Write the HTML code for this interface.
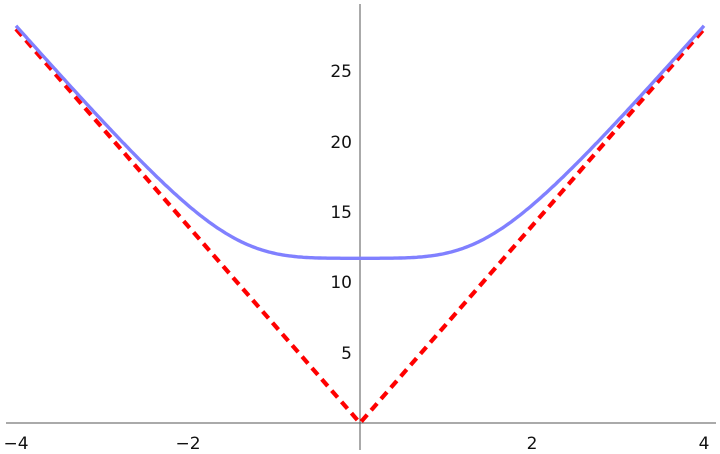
<!DOCTYPE html>
<html><head><style>html,body{margin:0;padding:0;background:#fff;}svg{display:block;}</style></head>
<body>
<svg id="s" width="720" height="454" xmlns="http://www.w3.org/2000/svg" font-family="DejaVu Sans, Liberation Sans, sans-serif" font-size="17">
<g stroke="#555" stroke-width="1">
<line x1="6" y1="423" x2="716" y2="423"/>
<line x1="360" y1="4" x2="360" y2="450"/>
</g>
<g id="ticks" stroke="#555" stroke-width="1"></g>
<g fill="#111">
<text x="16" y="449" text-anchor="middle">−4</text>
<text x="188" y="449" text-anchor="middle">−2</text>
<text x="532" y="449" text-anchor="middle">2</text>
<text x="704" y="449" text-anchor="middle">4</text>
<text x="352" y="359" text-anchor="end">5</text>
<text x="352" y="288" text-anchor="end">10</text>
<text x="352" y="218" text-anchor="end">15</text>
<text x="352" y="148" text-anchor="end">20</text>
<text x="352" y="77" text-anchor="end">25</text>
</g>
<path id="red" fill="none" stroke="#ff0000" stroke-width="4.2" stroke-dasharray="9,6" d="M16 29 L360 423 L704 29"/>
<path id="blue" fill="none" stroke="#8080ff" stroke-width="3.4"/>
<script>
var X=function(x){return 360+86*x},Y=function(y){return 423-14.08*y};
var d="";for(var i=0;i<=400;i++){var x=-4+i*0.02;var y=Math.pow(Math.pow(7*x,4)+Math.pow(11.7,4),0.25);d+=(i?"L":"M")+X(x).toFixed(1)+" "+Y(y).toFixed(1);}
document.getElementById("blue").setAttribute("d",d);
var t="";for(var k=-8;k<=8;k++){var x=X(k/2);var L=(k%4==0)?6:3;if(k!=0)t+='<line x1="'+x+'" y1="'+(423-L)+'" x2="'+x+'" y2="423"/>';}
for(var k=1;k<=29;k++){var y=Y(k);var L=(k%5==0)?6:3;t+='<line x1="360" y1="'+y+'" x2="'+(360+L)+'" y2="'+y+'"/>';}
document.getElementById("ticks").innerHTML=t;
</script>
</svg>
</body></html>
